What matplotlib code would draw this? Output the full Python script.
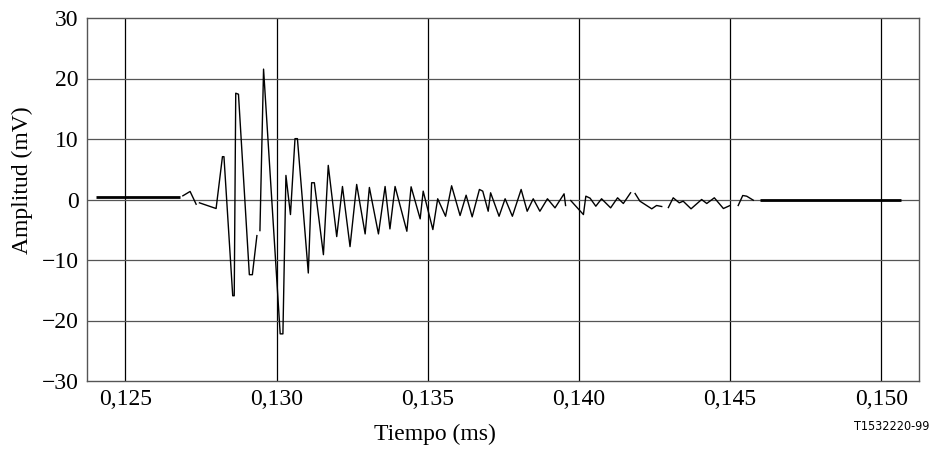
import numpy as np
import matplotlib
matplotlib.use("Agg")
import matplotlib.pyplot as plt

nan = np.nan

# Flat lead-in and tail segments (time in ms, amplitude in mV)
lead_t = [0.12403, 0.12679]
lead_a = [0.38, 0.38]
tail_t = [0.14599, 0.15064]
tail_a = [-0.12, -0.12]

# Main waveform (NaN marks breaks in the trace)
wave_t = [0.12690, 0.12714, 0.12734, nan,
          0.12745, 0.12800, 0.12821, 0.12826, 0.12855, 0.12860, 0.12865, 0.12874,
          0.12910, 0.12920, 0.12935, nan,
          0.12945, 0.12957, 0.13012, 0.13021, 0.13031, 0.13046, 0.13061, 0.13069,
          0.13105, 0.13116, 0.13125, 0.13155, 0.13171, 0.13199, 0.13218, 0.13243,
          0.13265, 0.13293, 0.13307, 0.13337, 0.13359, 0.13375, 0.13392, 0.13431,
          0.13445, 0.13475, 0.13485, 0.13517, 0.13533, 0.13559, 0.13579, 0.13607,
          0.13627, 0.13647, 0.13671, 0.13682, 0.13700, 0.13708, 0.13736, 0.13756,
          0.13780, 0.13809, 0.13829, 0.13849, 0.13871, 0.13896, 0.13921, 0.13951,
          0.13956, nan,
          0.13973, 0.14015, 0.14023, 0.14037, 0.14056, 0.14075, 0.14105, 0.14128,
          0.14147, 0.14171, nan,
          0.14186, 0.14202, 0.14241, 0.14257, 0.14274, nan,
          0.14296, 0.14312, 0.14332, 0.14345, 0.14371, 0.14406, 0.14423, 0.14448,
          0.14478, 0.14500, nan,
          0.14527, 0.14542, 0.14555, 0.14577]
wave_a = [0.61, 1.33, -0.78, nan,
          -0.55, -1.49, 7.08, 7.08, -15.91, -15.91, 17.57, 17.40,
          -12.43, -12.43, -5.97, nan,
          -5.14, 21.55, -22.21, -22.21, 3.98, -2.49, 10.06, 10.06,
          -12.15, 2.77, 2.77, -9.12, 5.64, -6.13, 2.15, -7.79,
          2.49, -5.69, 1.99, -5.69, 2.15, -4.86, 2.15, -5.25,
          2.10, -3.20, 1.38, -4.97, 0.12, -2.77, 2.27, -2.65,
          0.71, -2.87, 1.66, 1.38, -1.94, 1.11, -2.77, 0.12,
          -2.77, 1.66, -1.94, 0.12, -1.94, 0.12, -1.38, 0.94,
          -0.99, nan,
          -0.17, -2.49, 0.55, 0.22, -1.11, 0.12, -1.38, 0.28,
          -0.66, 1.11, nan,
          0.99, -0.28, -1.54, -0.99, -1.16, nan,
          -1.33, 0.28, -0.55, -0.28, -1.54, 0.00, -0.66, 0.28,
          -1.49, -0.99, nan,
          -0.99, 0.66, 0.55, -0.12]

x_ticks = [0.125, 0.130, 0.135, 0.140, 0.145, 0.150]
x_tick_labels = ["0,125", "0,130", "0,135", "0,140", "0,145", "0,150"]
y_ticks = [-30, -20, -10, 0, 10, 20, 30]
y_tick_labels = ["\u221230", "\u221220", "\u221210", "0", "10", "20", "30"]

serif = ["Liberation Serif", "DejaVu Serif"]

fig = plt.figure(figsize=(9.31, 4.51), dpi=100)
ax = fig.add_axes([87 / 931, 1 - 381 / 451, 832 / 931, 363 / 451])

ax.set_xlim(0.12373, 0.15125)
ax.set_ylim(-30, 30)

# grid
for xv in x_ticks:
    ax.axvline(xv, color="black", lw=0.9, zorder=1)
for yv in y_ticks[1:-1]:
    ax.axhline(yv, color="#555555", lw=0.9, zorder=1)

ax.plot(lead_t, lead_a, color="black", lw=2.0, solid_capstyle="butt", zorder=3)
ax.plot(tail_t, tail_a, color="black", lw=2.0, solid_capstyle="butt", zorder=3)
ax.plot(wave_t, wave_a, color="black", lw=1.0, zorder=3)

ax.set_xticks(x_ticks)
ax.set_xticklabels(x_tick_labels, family=serif, fontsize=17)
ax.set_yticks(y_ticks)
ax.set_yticklabels(y_tick_labels, family=serif, fontsize=17)
ax.tick_params(length=0, pad=6)

for s in ax.spines.values():
    s.set_color("#555555")
    s.set_linewidth(1.0)

fig.text(22 / 931, 1 - 180 / 451, "Amplitud (mV)", rotation=90,
         ha="center", va="center", family=serif, fontsize=17)
fig.text(435 / 931, 1 - 434 / 451, "Tiempo (ms)",
         ha="center", va="center", family=serif, fontsize=17)
fig.text(929 / 931, 1 - 427 / 451, "T1532220-99",
         ha="right", va="center", family=["Liberation Sans Narrow", "DejaVu Sans"],
         fontstretch="condensed", fontsize=9)

fig.savefig("out.png", dpi=100)
